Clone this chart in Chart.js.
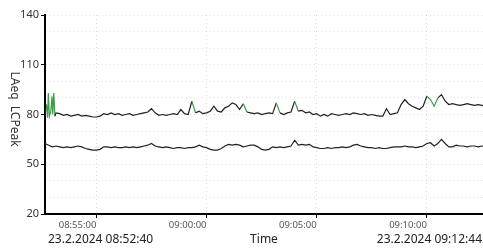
<!DOCTYPE html>
<html>
<head>
<meta charset="utf-8">
<script src="https://cdn.jsdelivr.net/npm/chart.js@4"></script>
<style>
    html, body { margin: 0; padding: 0; background: #fff; overflow: hidden; }
    #wrap { width: 483px; height: 248px; position: relative; }
</style>
</head>
<body>
<div id="wrap"><canvas id="myChart"></canvas></div>
<script>
// measurement starts 23.2.2024 08:52:40, values in seconds from start
const startLabel = '23.2.2024 08:52:40';
const endLabel = '23.2.2024 09:12:44';
const timeTicks = ['08:55:00', '09:00:00', '09:05:00', '09:10:00'];
const yTickLabels = [20, 50, 80, 110, 140];

// LCPeak, first half minute (irregular samples around the start spikes)
const peakStartSecs = [0, 4, 7, 9, 12, 16, 19, 21, 24, 27];
const peakStartVals = [80, 86, 78, 93, 79, 82, 91, 80, 93, 79];

// LCPeak, every 10 s from 30 s
const peakVals = [
    81, 80.5, 79.5, 80, 79, 79.5, 80, 79, 79.5, 79, 78.5, 78.5, 79, 80.5, 80, 81, 80, 80.5, 79.5, 80,
    80.5, 79.5, 80, 80.5, 81, 81.5, 83.5, 81, 79.5, 80, 79.5, 80, 80.5, 80, 83, 80.5, 80, 88, 81, 82,
    80.5, 81, 82, 85, 82, 81.5, 84, 85, 87, 86, 83, 86.5, 81.5, 81, 80.5, 81, 80, 80.5, 81, 80.5,
    87, 81, 80, 81, 81.5, 88, 82, 82.5, 81, 81.5, 80, 80.5, 79, 80, 79, 80.5, 80, 79.5, 80, 80.5,
    80, 81, 80.5, 80, 80.5, 79.5, 80, 79.5, 79, 79, 83.5, 80, 80.5, 81, 86, 89, 86.5, 85, 84, 83,
    85, 91, 89, 85, 90, 92, 88, 86, 86.5, 86, 85.5, 86, 86.5, 86, 85.5, 86, 85.5, 85
];

// LAeq, every 10 s from 0 s
const laeqVals = [
    62.5, 61.5, 60.5, 61, 60.5, 60, 60.5, 60, 60.5, 61, 60.5, 59.5, 59, 58.5, 58.5, 59, 60.5, 60.5, 60, 60.5,
    60, 60, 60.5, 60, 60.5, 60, 60.5, 61, 61.5, 62.5, 61, 60.5, 60, 60.5, 60, 59.5, 60, 60, 59.5, 60,
    60, 60.5, 61.5, 60.5, 60, 59, 58.5, 58.5, 59.5, 61, 62, 61.5, 62, 61.5, 60.5, 61, 61.5, 61.5, 60.5, 59,
    58.5, 59, 60.5, 60, 60.5, 60, 60.5, 61, 64.5, 61.5, 62, 61.5, 62, 60.5, 60, 59.5, 59.5, 60, 59.5, 60,
    60, 60.5, 60, 60.5, 61.5, 62, 61, 60.5, 60, 60, 59.5, 60, 59.5, 59.5, 60, 60.5, 60.5, 60.5, 61, 60.5,
    60.5, 60, 60.5, 61, 62.5, 63, 61, 62.5, 65, 62.5, 60.5, 60.5, 61.5, 61, 61, 60.5, 61, 61, 60.5, 61, 61
];

// marked (green) stretches of the LCPeak trace, seconds
const markedRanges = [[4, 27], [395, 405], [538, 548], [625, 635], [675, 685], [1040, 1065]];

function toSecs(hms) {
    const p = hms.split(':').map(Number);
    return p[0] * 3600 + p[1] * 60 + p[2] - (8 * 3600 + 52 * 60 + 40);
}
function toHms(s) {
    const t = 8 * 3600 + 52 * 60 + 40 + s;
    const pad = n => String(n).padStart(2, '0');
    return pad(Math.floor(t / 3600)) + ':' + pad(Math.floor(t / 60) % 60) + ':' + pad(t % 60);
}

const tickSecs = timeTicks.map(toSecs);

const peakData = peakStartSecs.map((s, i) => ({ x: s, y: peakStartVals[i] }))
    .concat(peakVals.map((v, i) => ({ x: 30 + i * 10, y: v })));
const laeqData = laeqVals.map((v, i) => ({ x: i * 10, y: v }));

function isMarked(x) {
    return markedRanges.some(r => x >= r[0] && x < r[1]);
}

const extraText = {
    id: 'extraText',
    afterDraw(chart) {
        const c = chart.ctx;
        c.save();
        c.fillStyle = '#222';
        c.font = '12px "Noto Sans"';
        c.textBaseline = 'alphabetic';
        c.textAlign = 'left';
        c.fillText(startLabel, 48, 243);
        c.textAlign = 'right';
        c.fillText(endLabel, 482, 243);
        c.textAlign = 'center';
        c.fillText('Time', 264, 243);
        // vertical title, reads top to bottom
        c.translate(14, 109);
        c.rotate(Math.PI / 2);
        c.font = '12px "Noto Sans"';
        c.fillStyle = '#333';
        c.textBaseline = 'middle';
        c.fillText('LAeq  LCPeak', 0, 0);
        c.restore();
    }
};

const canvas1 = document.getElementById('myChart');

const myChart1 = new Chart(canvas1, {
    type: 'line',
    data: {
        datasets: [{
            label: 'LCPeak',
            data: peakData,
            borderColor: '#222',
            borderWidth: 1.2,
            pointRadius: 0,
            segment: {
                borderColor: ctx => isMarked(ctx.p0.parsed.x) ? '#3f9a4a' : '#222'
            }
        }, {
            label: 'LAeq',
            data: laeqData,
            borderColor: '#222',
            borderWidth: 1.2,
            pointRadius: 0
        }]
    },
    options: {
        responsive: true,
        maintainAspectRatio: false,
        animation: false,
        layout: { padding: { top: 15, right: 0, left: 0, bottom: 0 } },
        scales: {
            x: {
                type: 'linear',
                min: 0,
                max: 1193,
                afterBuildTicks: scale => { scale.ticks = tickSecs.map(v => ({ value: v })); },
                afterFit: scale => { scale.height = 34; },
                grid: {
                    color: 'rgba(0, 0, 0, 0.12)',
                    tickColor: '#000',
                    tickLength: 4
                },
                border: { color: '#000', width: 2, dash: [1, 3] },
                ticks: {
                    autoSkip: false,
                    maxRotation: 0,
                    align: 'end',
                    padding: 2,
                    color: '#555',
                    font: { size: 9.5, family: '"Noto Sans"' },
                    callback: v => toHms(v)
                }
            },
            y: {
                min: 20,
                max: 140,
                afterBuildTicks: scale => {
                    const t = [];
                    for (let v = 20; v <= 140; v += 10) t.push({ value: v });
                    scale.ticks = t;
                },
                afterFit: scale => { scale.width = 45; },
                grid: {
                    color: 'rgba(0, 0, 0, 0.12)',
                    tickColor: ctx => yTickLabels.includes(ctx.tick.value) ? '#000' : 'rgba(0,0,0,0)',
                    tickLength: 4
                },
                border: { color: '#000', width: 2, dash: [1, 3] },
                ticks: {
                    padding: 2,
                    color: '#333',
                    font: { size: 11, family: '"Noto Sans"' },
                    callback: v => yTickLabels.includes(v) ? String(v) : ''
                }
            }
        },
        plugins: {
            legend: { display: false },
            tooltip: { enabled: false }
        }
    },
    plugins: [extraText]
});
</script>
</body>
</html>
